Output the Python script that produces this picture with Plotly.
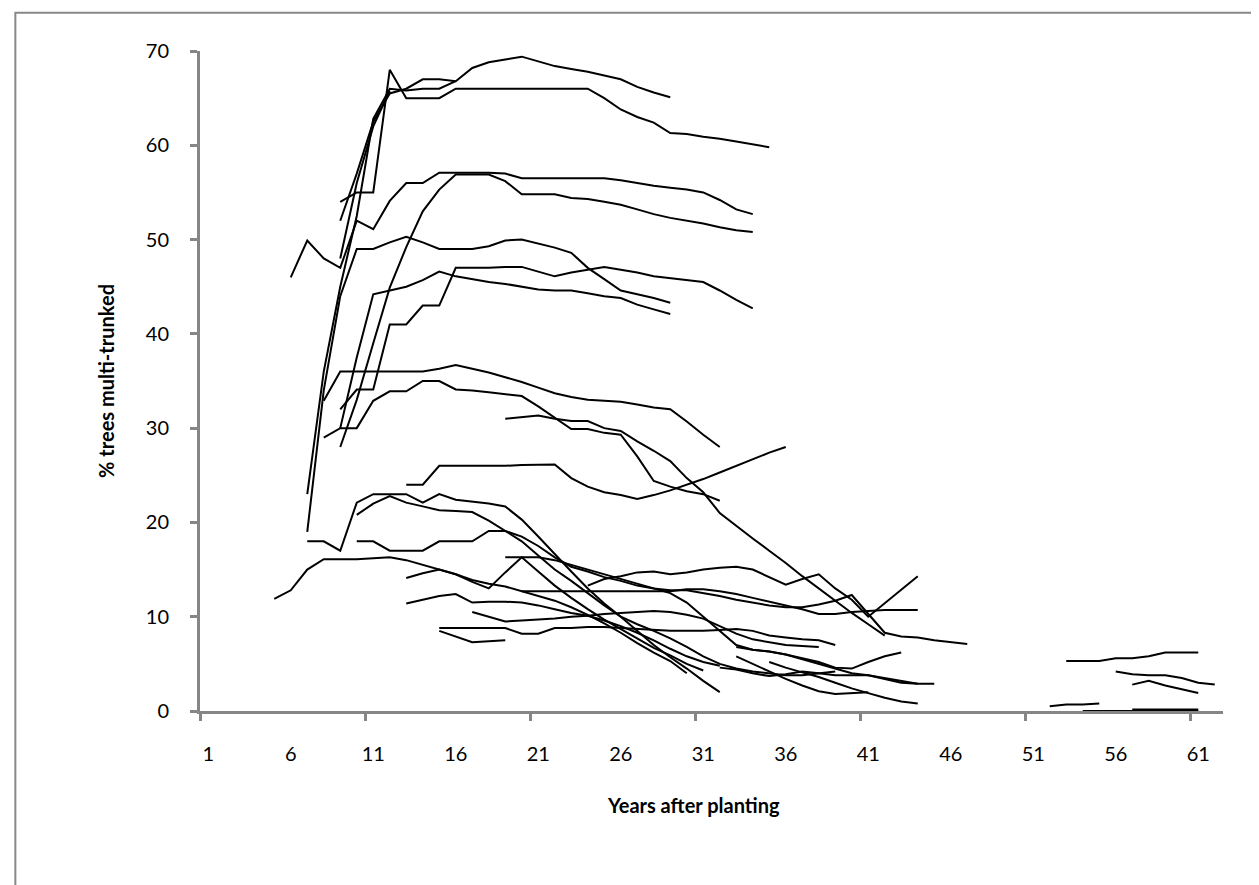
import plotly.graph_objects as go

# ---------------- data (category = year after planting) ----------------
tick_labels = [1, 6, 11, 16, 21, 26, 31, 36, 41, 46, 51, 56, 61]
n_categories = 62
tick_mark_positions = [0.5, 10.5, 20.5, 30.5, 40.5, 50.5, 60.5]

start_a = 9
series_a = [52, 57, 62.5, 65.5, 66, 67, 67, 66.8, 68.2, 68.8, 69.1, 69.4, 68.9, 68.4, 68.1, 67.8, 67.4, 67.0, 66.2, 65.6, 65.1]
start_b = 9
series_b = [54, 55, 55, 68, 65, 65, 65, 66, 66, 66, 66, 66, 66, 66, 66, 66, 65, 63.8, 63.0, 62.4, 61.3, 61.2, 60.9, 60.7, 60.4, 60.1, 59.8]
start_c = 7
series_c = [23, 36, 45, 52.5, 62.8, 66, 65.8, 66, 66, 66.8]
start_d = 9
series_d = [48, 56, 62, 65.8]
start_e = 6
series_e = [46, 49.9, 48, 47, 52, 51.1, 54.1, 56, 56, 57.1, 57.1, 57.1, 57.1, 57.0, 56.5, 56.5, 56.5, 56.5, 56.5, 56.5, 56.3, 56.0, 55.7, 55.5, 55.3, 55.0, 54.2, 53.2, 52.7]
start_f = 9
series_f = [28, 33, 39, 44.9, 49.2, 53.0, 55.3, 56.9, 56.9, 56.9, 56.2, 54.8, 54.8, 54.8, 54.4, 54.3, 54.0, 53.7, 53.2, 52.7, 52.3, 52.0, 51.7, 51.3, 51.0, 50.8]
start_g = 9
series_g = [30, 37.5, 44.2, 44.6, 45.0, 45.7, 46.6, 46.1, 45.8, 45.5, 45.3, 45.0, 44.7, 44.6, 44.6, 44.3, 44.0, 43.8, 43.1, 42.6, 42.1]
start_h = 7
series_h = [19, 34, 44, 49, 49, 49.7, 50.3, 49.7, 49, 49, 49, 49.3, 49.9, 50.0, 49.6, 49.15, 48.6, 47.0, 45.8, 44.6, 44.2, 43.8, 43.3]
start_i = 9
series_i = [32, 34.1, 34.1, 41, 41, 43, 43, 47, 47, 47, 47.1, 47.1, 46.6, 46.1, 46.5, 46.8, 47.1, 46.8, 46.5, 46.1, 45.9, 45.7, 45.5, 44.6, 43.6, 42.7]
start_j = 8
series_j = [32.9, 36, 36, 36, 36, 36, 36, 36.3, 36.7, 36.3, 35.9, 35.4, 34.9, 34.3, 33.7, 33.3, 33.0, 32.9, 32.8, 32.5, 32.2, 32.0, 30.7, 29.3, 28.0]
start_k = 8
series_k = [29, 30, 30, 32.9, 33.9, 33.9, 35, 35, 34.1, 34.0, 33.8, 33.6, 33.4, 32.3, 31.1, 29.9, 29.9, 29.5, 29.3, 27.0, 24.4, 23.8, 23.3, 23.0, 22.3]
start_l = 19
series_l = [31.0, 31.2, 31.35, 31.0, 30.75, 30.75, 30.0, 29.7, 28.6, 27.6, 26.5, 24.7, 23.2, 21.0, 19.6, 18.3, 17.0, 15.7, 14.3, 13.0, 11.7, 10.4, 9.2, 8.0]
start_m = 13
series_m = [24, 24, 26, 26, 26, 26, 26, 26.1, 26.15, 26.15, 24.7, 23.8, 23.2, 22.9, 22.5, 22.9, 23.4, 24.0, 24.6, 25.3, 26.0, 26.7, 27.4, 28.0]
start_n1 = 7
series_n1 = [18, 18, 17, 22.1, 23, 23, 23, 22.1, 23, 22.4, 22.2, 22.0, 21.7, 20.3, 18.5, 16.6, 14.8, 13.0, 11.4, 10.0, 8.5, 7.0, 5.7, 4.5, 3.2, 2.0]
start_n2 = 10
series_n2 = [18, 18, 17, 17, 17, 18, 18, 18, 19.1, 19.1, 18.5, 17.5, 16.3, 15.3, 14.8, 14.2, 13.8, 13.3, 13.0, 12.8, 12.8, 12.5, 12.2, 11.8, 11.5, 11.2, 11.0, 11.0, 11.3, 11.7, 12.3, 10.3, 8.3, 7.9, 7.8, 7.5, 7.3, 7.1]
start_n3 = 10
series_n3 = [20.8, 22, 22.8, 22.1, 21.7, 21.3, 21.2, 21.1, 20.2, 19.1, 18.0, 16.5, 15.0, 13.8, 12.5, 11.2, 10.0, 9.2, 8.5, 7.7, 6.8, 5.8, 5.0, 4.5, 4.2, 4.0, 3.8, 3.8, 4.0, 4.2]
start_p1 = 13
series_p1 = [14.1, 14.6, 15.0, 14.5, 13.7, 13.0, 14.7, 16.3, 14.8, 13.3, 12.0, 10.8, 9.7, 8.7, 7.7, 6.7, 5.9, 5.0, 4.3]
start_p2 = 13
series_p2 = [11.4, 11.8, 12.2, 12.4, 11.5, 11.6, 11.6, 11.5, 11.2, 10.8, 10.4, 10.1, 9.6, 9.0, 8.3, 7.5, 6.6, 5.8, 5.2, 4.8]
start_p3 = 17
series_p3 = [10.5, 10.0, 9.5, 9.6, 9.7, 9.8, 10.0, 10.1, 10.3, 10.4, 10.5, 10.6, 10.5, 10.2, 9.8, 9.0, 8.2, 7.6, 7.3, 7.0, 6.9, 6.8]
start_p4 = 15
series_p4 = [8.8, 8.8, 8.8, 8.8, 8.8, 8.2, 8.2, 8.8, 8.8, 8.9, 8.9, 8.8, 8.7, 8.6, 8.5, 8.5, 8.5, 8.6, 8.7, 8.5, 8.0, 7.8, 7.6, 7.5, 7.0]
start_p5 = 15
series_p5 = [8.5, 7.9, 7.3, 7.4, 7.5]
start_r1 = 20
series_r1 = [12.7, 12.7, 12.7, 12.7, 12.7, 12.7, 12.7, 12.7, 12.7, 12.7, 12.9, 12.9, 12.7, 12.4, 12.0, 11.6, 11.2, 10.8, 10.3, 10.3, 10.5, 10.6, 10.7, 10.7, 10.7]
start_r2 = 19
series_r2 = [16.3, 16.3, 16.3, 16.0, 15.5, 15.0, 14.5, 14.0, 13.5, 13.0, 12.5, 11.5, 10.0, 8.5, 7.0, 6.5, 6.3, 6.0, 5.5, 5.0, 4.5, 4.0, 3.8, 3.5, 3.2, 2.9, 2.9]
start_r3 = 24
series_r3 = [13.3, 14.0, 14.3, 14.7, 14.8, 14.5, 14.7, 15.0, 15.2, 15.3, 15.0, 14.2, 13.4, 14.0, 14.5, 13.0, 11.8, 10.0, 11.4, 12.9, 14.3]
start_s1 = 32
series_s1 = [4.6, 4.4, 4.0, 3.7, 3.9, 4.2, 4.0, 3.8, 3.8, 3.8, 3.4, 3.0, 2.9]
start_s2 = 33
series_s2 = [6.8, 6.5, 6.3, 6.0, 5.6, 5.2, 4.6, 4.5, 5.2, 5.8, 6.2]
start_s3 = 33
series_s3 = [5.8, 5.0, 4.2, 3.4, 2.7, 2.1, 1.8, 1.9, 2.0]
start_s4 = 35
series_s4 = [5.2, 4.6, 4.1, 3.6, 3.0, 2.4, 1.9, 1.4, 1.0, 0.8]
start_z = 5
series_z = [11.9, 12.8, 15.0, 16.1, 16.1, 16.1, 16.2, 16.3, 16.0, 15.5, 15.0, 14.5, 13.9, 13.5, 13.2, 12.7, 12.2, 11.7, 11.0, 10.2, 9.3, 8.3, 7.2, 6.2, 5.3, 4.0]
start_u1 = 53
series_u1 = [5.3, 5.3, 5.3, 5.6, 5.6, 5.8, 6.2, 6.2, 6.2]
start_u2 = 56
series_u2 = [4.2, 3.9, 3.8, 3.8, 3.5, 3.0, 2.8]
start_u3 = 57
series_u3 = [2.8, 3.2, 2.7, 2.3, 1.9]
start_u4 = 52
series_u4 = [0.5, 0.7, 0.7, 0.8]
start_u5 = 54
series_u5 = [0, 0, 0, 0, 0, 0, 0, 0]
start_u6 = 57
series_u6 = [0, 0, 0, 0, 0]

all_series = [
    (start_a, series_a, 2), (start_b, series_b, 2), (start_c, series_c, 2), (start_d, series_d, 2),
    (start_e, series_e, 2), (start_f, series_f, 2), (start_g, series_g, 2), (start_h, series_h, 2),
    (start_i, series_i, 2), (start_j, series_j, 2), (start_k, series_k, 2), (start_l, series_l, 2),
    (start_m, series_m, 2), (start_n1, series_n1, 2), (start_n2, series_n2, 2), (start_n3, series_n3, 2),
    (start_p1, series_p1, 2), (start_p2, series_p2, 2), (start_p3, series_p3, 2), (start_p4, series_p4, 2),
    (start_p5, series_p5, 2), (start_r1, series_r1, 2), (start_r2, series_r2, 2), (start_r3, series_r3, 2),
    (start_s1, series_s1, 2), (start_s2, series_s2, 2), (start_s3, series_s3, 2), (start_s4, series_s4, 2),
    (start_z, series_z, 2), (start_u1, series_u1, 2), (start_u2, series_u2, 2), (start_u3, series_u3, 2),
    (start_u4, series_u4, 2), (start_u5, series_u5, 2), (start_u6, series_u6, 5),
]

fig = go.Figure()
for start, vals, w in all_series:
    fig.add_trace(go.Scatter(
        x=list(range(start, start + len(vals))), y=vals, mode="lines",
        line=dict(color="#000000", width=w), showlegend=False, hoverinfo="skip",
        cliponaxis=False,
    ))

FONT = "Lato, Open Sans, sans-serif"
AXIS_GREY = "#868686"

fig.update_layout(
    width=1259, height=885,
    margin=dict(l=192, r=44, t=43, b=182),
    paper_bgcolor="white", plot_bgcolor="white",
    font=dict(family=FONT, size=20, color="#000000"),
    xaxis=dict(
        range=[0.5, n_categories + 0.5], showgrid=False, zeroline=False,
        showline=True, linecolor=AXIS_GREY, linewidth=3, layer="below traces",
        tickmode="array", tickvals=tick_labels, ticktext=[str(t) for t in tick_labels],
        ticks="", ticklabelstandoff=23,
        tickfont=dict(family=FONT, size=20, color="#000000"),
        minor=dict(tickmode="array", tickvals=tick_mark_positions, ticks="outside",
                   ticklen=7, tickwidth=3, tickcolor=AXIS_GREY, showgrid=False),
    ),
    yaxis=dict(
        range=[0, 70], showgrid=False, zeroline=False,
        showline=True, linecolor=AXIS_GREY, linewidth=3, layer="below traces",
        tickmode="array", tickvals=[0, 10, 20, 30, 40, 50, 60, 70],
        ticks="outside", ticklen=7, tickwidth=3, tickcolor=AXIS_GREY,
        ticklabelstandoff=17,
        tickfont=dict(family=FONT, size=20, color="#000000"),
    ),
    annotations=[
        dict(text="<b>Years after planting</b>", xref="paper", yref="paper",
             x=0.482, y=-0.143, xanchor="center", yanchor="middle", showarrow=False,
             font=dict(family=FONT, size=20, color="#000000")),
        dict(text="<b>% trees multi-trunked</b>", xref="paper", yref="paper",
             x=-0.092, y=0.5, xanchor="center", yanchor="middle", showarrow=False,
             textangle=-90, font=dict(family=FONT, size=20, color="#000000")),
    ],
    shapes=[
        dict(type="rect", xref="paper", yref="paper",
             x0=-0.1805, x1=1.0361, y0=-0.29, y1=1.058,
             line=dict(color="#888888", width=2), fillcolor="rgba(0,0,0,0)", layer="below"),
    ],
)

fig.write_html("out.html")
